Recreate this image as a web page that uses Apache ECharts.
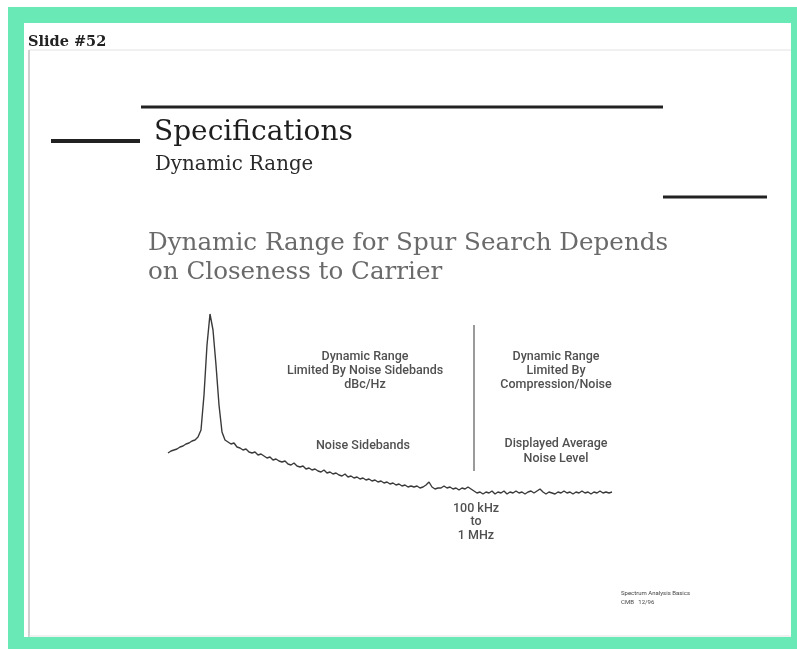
<!DOCTYPE html>
<html lang="en">
<head>
    <meta charset="UTF-8">
    <title>Slide #52</title>
    <script src="https://cdn.jsdelivr.net/npm/echarts@6/dist/echarts.min.js"></script>
    <style>
        body { margin: 0; background: #fff; }
        #slide { width: 797px; height: 649px; }
    </style>
</head>
<body>
<div id="slide"></div>
<script type="text/javascript">
    // slide texts
    var slideLabel = 'Slide #52'
    var titleText = 'Specifications'
    var subtitleText = 'Dynamic Range'
    var headingLines = ['Dynamic Range for Spur Search Depends', 'on Closeness to Carrier']
    var leftNoteLines = ['Dynamic Range', 'Limited By Noise Sidebands', 'dBc/Hz']
    var leftTraceNote = ['Noise Sidebands']
    var rightNoteLines = ['Dynamic Range', 'Limited By', 'Compression/Noise']
    var rightTraceNote = ['Displayed Average', 'Noise Level']
    var offsetNote = ['100 kHz', 'to', '1 MHz']
    var footerLines = ['Spectrum Analysis Basics', 'CMB   12/96']

    // trace, dB relative to carrier, one value per display bin
    var traceLevels = [
        -69.5, -68.5, -68, -67.5, -66.5, -66, -65, -64.5, -63.5, -63,
        -61.5, -58, -40.5, -15.5, 0, -8, -25.5, -45.5, -59,
        -63, -64, -65, -64.5, -66.5, -67, -68, -67.5, -69, -69.5,
        -69, -70.5, -70, -71, -72, -71.5, -73, -72.5, -73.5, -74,
        -73.5, -75, -75.5, -74.5, -76, -76.5, -76, -77.5, -77, -78,
        -77.5, -78.5, -79, -78, -79.5, -79, -80, -79.5, -80.5, -81,
        -80, -81.5, -81, -82, -81.5, -82.5, -82, -83, -82.5, -83.5,
        -83, -84, -83.5, -84.5, -84, -85, -84.5, -85.5, -85, -86,
        -85.5, -86.5, -86, -86.5, -86, -87, -86.5, -85.5, -84, -86.5,
        -87.5, -87, -87, -86, -87, -86.5, -87.5, -87, -88, -87,
        -87.5, -86.5, -87.5, -88.5, -89.5, -89, -90, -89, -89.5, -88.5,
        -90, -89, -89.5, -88.5, -90, -89, -89.5, -88.5, -89.5, -89,
        -90, -89, -88.5, -89.5, -88.5, -87.5, -89, -90, -89, -89.5,
        -90, -89, -89.5, -88.5, -89.5, -89, -90, -89, -89.5, -88.5,
        -89.5, -89, -90, -89, -89.5, -88.5, -89.5, -89, -89.5, -89
    ]
    // divider between the two regions (bin, top dB, bottom dB)
    var dividerBin = 102
    var dividerTop = -5.5
    var dividerBottom = -78.5

    var bins = traceLevels.map(function (v, i) { return i })

    var slide = echarts.init(document.getElementById('slide'), null, {renderer: 'canvas'})

    var green = '#68e9b5'
    var noteFont = '500 12.5px Roboto'

    function noteText(lines, x, y, lh) {
        return {
            type: 'text',
            style: {
                text: lines.join('\n'),
                x: x, y: y,
                textAlign: 'center',
                textVerticalAlign: 'middle',
                lineHeight: lh,
                font: noteFont,
                fill: '#505050'
            }
        }
    }

    var option = {
        animation: false,
        backgroundColor: '#fff',
        grid: {left: 168, right: 185, top: 314, bottom: 135},
        xAxis: {
            type: 'category',
            data: bins,
            boundaryGap: false,
            show: false
        },
        yAxis: {
            type: 'value',
            min: -100,
            max: 0,
            show: false
        },
        series: [
            {
                type: 'line',
                data: traceLevels,
                symbol: 'none',
                lineStyle: {color: '#3a3a3a', width: 1.4},
                markLine: {
                    silent: true,
                    symbol: 'none',
                    label: {show: false},
                    lineStyle: {color: '#9a9a9a', width: 2, type: 'solid'},
                    data: [[{coord: [dividerBin, dividerTop]}, {coord: [dividerBin, dividerBottom]}]]
                }
            }
        ],
        graphic: [
            // green frame
            {type: 'rect', shape: {x: 8, y: 7, width: 789, height: 642}, style: {fill: green}, z: -10},
            {type: 'rect', shape: {x: 24, y: 23, width: 767, height: 614}, style: {fill: '#fff'}, z: -9},
            // slide panel borders
            {type: 'line', shape: {x1: 29, y1: 50, x2: 791, y2: 50}, style: {stroke: '#e2e2e2', lineWidth: 1}},
            {type: 'line', shape: {x1: 29, y1: 50, x2: 29, y2: 637}, style: {stroke: '#d0d0d0', lineWidth: 2}},
            {type: 'line', shape: {x1: 29, y1: 636, x2: 791, y2: 636}, style: {stroke: '#e2e2e2', lineWidth: 1}},
            {
                type: 'text',
                style: {text: slideLabel, x: 28, y: 42, textVerticalAlign: 'middle', font: 'bold 14.5px "DejaVu Serif"', fill: '#222'}
            },
            // rules
            {type: 'line', shape: {x1: 141, y1: 107, x2: 663, y2: 107}, style: {stroke: '#222', lineWidth: 3}},
            {type: 'line', shape: {x1: 51, y1: 141, x2: 140, y2: 141}, style: {stroke: '#222', lineWidth: 4}},
            {type: 'line', shape: {x1: 663, y1: 197, x2: 767, y2: 197}, style: {stroke: '#222', lineWidth: 3}},
            {
                type: 'text',
                style: {text: titleText, x: 154, y: 133, textVerticalAlign: 'middle', font: '28px "DejaVu Serif"', fill: '#1e1e1e'}
            },
            {
                type: 'text',
                style: {text: subtitleText, x: 155, y: 165, textVerticalAlign: 'middle', font: '19.8px "DejaVu Serif"', fill: '#2a2a2a'}
            },
            {
                type: 'text',
                style: {
                    text: headingLines.join('\n'), x: 148, y: 258, textVerticalAlign: 'middle',
                    lineHeight: 29, font: '24.6px "DejaVu Serif"', fill: '#6a6a6a'
                }
            },
            noteText(leftNoteLines, 365, 371, 14),
            noteText(leftTraceNote, 363, 446, 14),
            noteText(rightNoteLines, 556, 371, 14),
            noteText(rightTraceNote, 556, 451, 15),
            noteText(offsetNote, 476, 522, 13.5),
            {
                type: 'text',
                style: {
                    text: footerLines.join('\n'), x: 621, y: 598, textVerticalAlign: 'middle',
                    lineHeight: 9, font: '6px Roboto', fill: '#444'
                }
            }
        ]
    }

    slide.setOption(option)
</script>
</body>
</html>
